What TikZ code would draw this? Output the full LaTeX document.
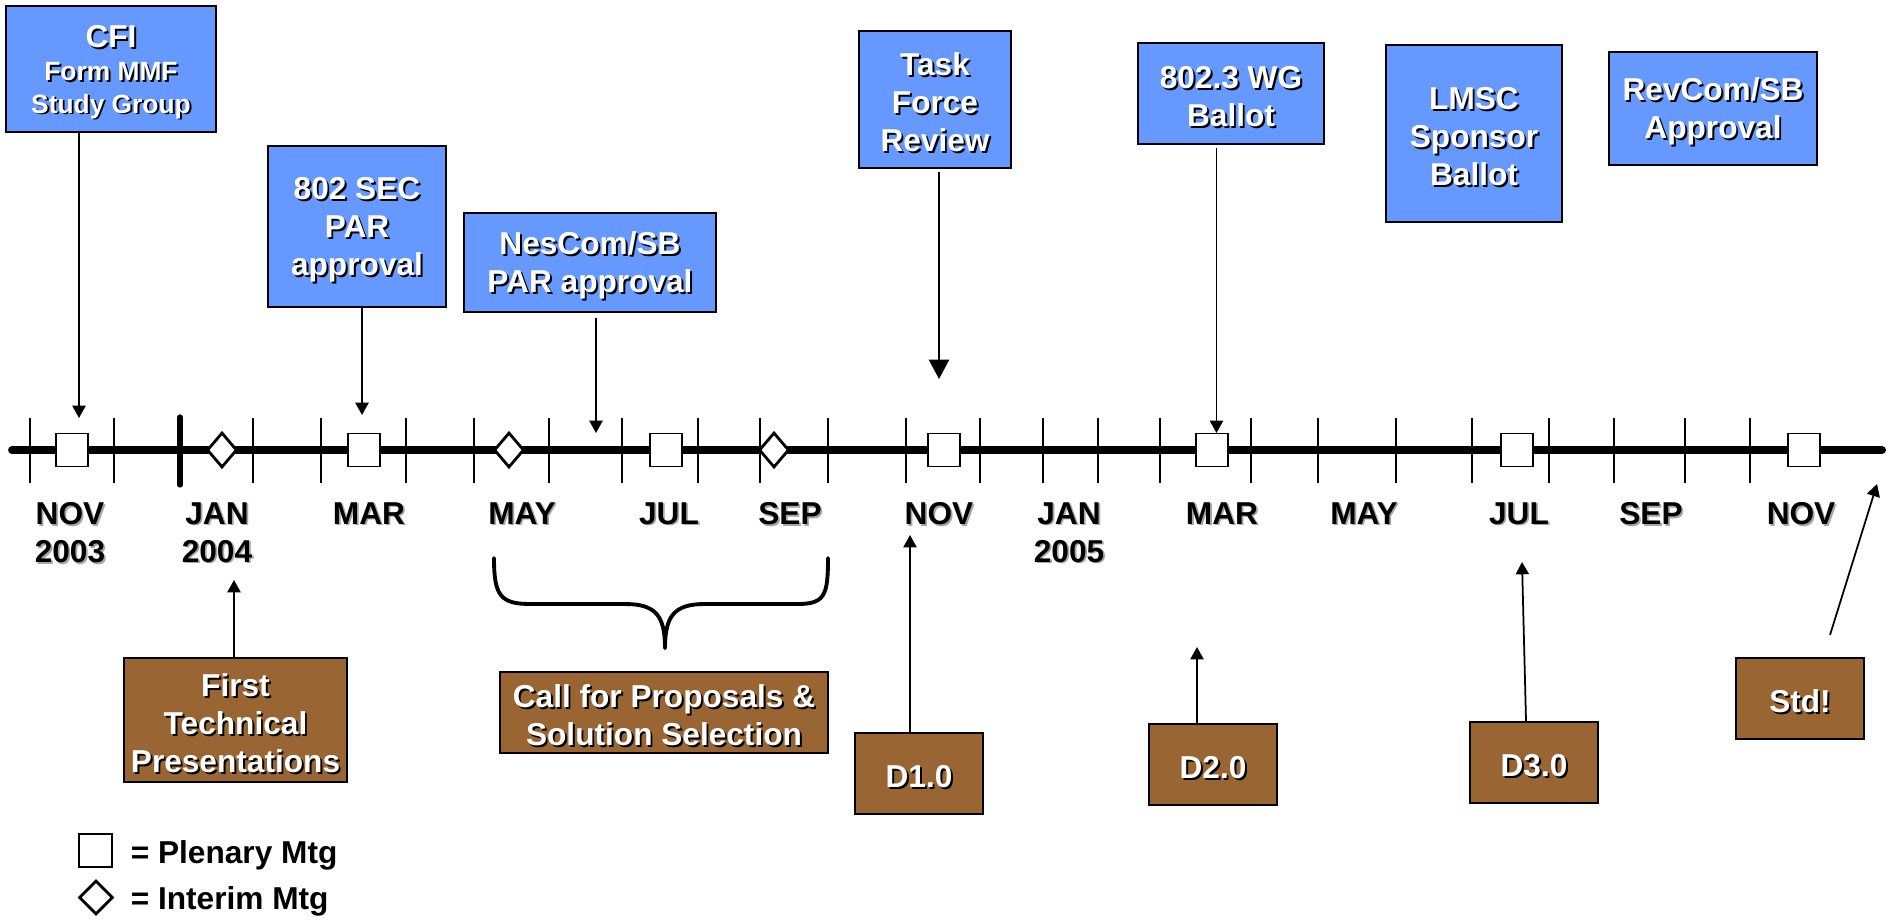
\documentclass[tikz,border=0pt]{standalone}
\usepackage{fontspec}
\setmainfont{Liberation Sans}
\usepackage{tikz}
\usetikzlibrary{arrows.meta,shapes.geometric}

\definecolor{mtgblue}{RGB}{102,153,255}
\definecolor{mtgbrown}{RGB}{153,102,51}

\newcommand\boxtext[1]{\raisebox{-0.08cm}[\height][\depth]{\makebox[0pt][l]{\hspace{1.1pt}\raisebox{-1.1pt}{\color{black}#1}}#1}}
\newcommand\axistext[1]{\makebox[0pt][l]{\hspace{1pt}\raisebox{-1pt}{\color{black!35}#1}}#1}

\tikzset{
  blue box/.style={draw=black, line width=1.2pt, fill=mtgblue, text=white, align=center, inner sep=2pt, font=\fontsize{18}{21.6}\selectfont\bfseries},
  brown box/.style={blue box, fill=mtgbrown},
  plenary/.style={rectangle, draw, line width=1pt, fill=white, minimum width=0.64cm, minimum height=0.66cm, inner sep=0pt},
  interim/.style={diamond, draw, line width=1.6pt, fill=white, minimum width=0.6cm, minimum height=0.7cm, inner sep=0pt},
  month/.style={anchor=north, align=center, inner sep=0pt, font=\fontsize{18}{21.6}\selectfont\bfseries},
  legend label/.style={anchor=base west, inner sep=0pt, font=\fontsize{18}{21.6}\selectfont\bfseries},
  monthtick/.style={line width=1pt},
  pointer/.style={line width=1pt, -{Triangle[width=7.5pt,length=7pt]}},
  big pointer/.style={line width=1pt, -{Triangle[width=11.5pt,length=11pt]}},
  brace line/.style={line width=2.2pt, line cap=round}
}

\begin{document}
\begin{tikzpicture}
\useasboundingbox (0,0) rectangle (37.82,-18.46);

\draw[monthtick] (0.60,-8.36) -- (0.60,-9.66);
\draw[monthtick] (2.28,-8.36) -- (2.28,-9.66);
\draw[line width=3pt, line cap=round] (3.60,-8.34) -- (3.60,-9.70);
\draw[monthtick] (5.06,-8.36) -- (5.06,-9.66);
\draw[monthtick] (6.42,-8.36) -- (6.42,-9.66);
\draw[monthtick] (8.12,-8.36) -- (8.12,-9.66);
\draw[monthtick] (9.48,-8.36) -- (9.48,-9.66);
\draw[monthtick] (10.98,-8.36) -- (10.98,-9.66);
\draw[monthtick] (12.44,-8.36) -- (12.44,-9.66);
\draw[monthtick] (13.96,-8.36) -- (13.96,-9.66);
\draw[monthtick] (15.20,-8.36) -- (15.20,-9.66);
\draw[monthtick] (16.56,-8.36) -- (16.56,-9.66);
\draw[monthtick] (18.12,-8.36) -- (18.12,-9.66);
\draw[monthtick] (19.60,-8.36) -- (19.60,-9.66);
\draw[monthtick] (20.86,-8.36) -- (20.86,-9.66);
\draw[monthtick] (21.96,-8.36) -- (21.96,-9.66);
\draw[monthtick] (23.20,-8.36) -- (23.20,-9.66);
\draw[monthtick] (25.02,-8.36) -- (25.02,-9.66);
\draw[monthtick] (26.36,-8.36) -- (26.36,-9.66);
\draw[monthtick] (27.92,-8.36) -- (27.92,-9.66);
\draw[monthtick] (29.44,-8.36) -- (29.44,-9.66);
\draw[monthtick] (30.98,-8.36) -- (30.98,-9.66);
\draw[monthtick] (32.28,-8.36) -- (32.28,-9.66);
\draw[monthtick] (33.70,-8.36) -- (33.70,-9.66);
\draw[monthtick] (35.00,-8.36) -- (35.00,-9.66);
\draw[line width=4.5pt, line cap=round] (0.24,-9.0) -- (37.64,-9.0);

\node[plenary] (p1) at (1.44,-9.0) {};
\node[interim] (i1) at (4.44,-9.0) {};
\node[plenary] (p2) at (7.28,-9.0) {};
\node[interim] (i2) at (10.18,-9.0) {};
\node[plenary] (p3) at (13.32,-9.0) {};
\node[interim] (i3) at (15.48,-9.0) {};
\node[plenary] (p4) at (18.88,-9.0) {};
\node[plenary] (p5) at (24.24,-9.0) {};
\node[plenary] (p6) at (30.34,-9.0) {};
\node[plenary] (p7) at (36.08,-9.0) {};

\node[month] (nov03) at (1.40,-10.04) {\axistext{NOV}\\\axistext{2003}};
\node[month] (jan04) at (4.34,-10.04) {\axistext{JAN}\\\axistext{2004}};
\node[month] (mar04) at (7.38,-10.04) {\axistext{MAR}};
\node[month] (may04) at (10.44,-10.04) {\axistext{MAY}};
\node[month] (jul04) at (13.38,-10.04) {\axistext{JUL}};
\node[month] (sep04) at (15.80,-10.04) {\axistext{SEP}};
\node[month] (nov04) at (18.78,-10.04) {\axistext{NOV}};
\node[month] (jan05) at (21.38,-10.04) {\axistext{JAN}\\\axistext{2005}};
\node[month] (mar05) at (24.44,-10.04) {\axistext{MAR}};
\node[month] (may05) at (27.28,-10.04) {\axistext{MAY}};
\node[month] (jul05) at (30.38,-10.04) {\axistext{JUL}};
\node[month] (sep05) at (33.02,-10.04) {\axistext{SEP}};
\node[month] (nov05) at (36.02,-10.04) {\axistext{NOV}};

\node[blue box, minimum width=4.2cm, minimum height=2.52cm] (cfi) at (2.22,-1.38) {\boxtext{CFI}\\[-3pt]\fontsize{15}{18}\selectfont\boxtext{Form MMF}\\[-3pt]\fontsize{15}{18}\selectfont\boxtext{Study Group}};
\node[blue box, minimum width=3.56cm, minimum height=3.22cm] (sec) at (7.14,-4.53) {\boxtext{802 SEC}\\\boxtext{PAR}\\\boxtext{approval}};
\node[blue box, minimum width=5.04cm, minimum height=1.98cm] (nescom) at (11.80,-5.25) {\boxtext{NesCom/SB}\\\boxtext{PAR approval}};
\node[blue box, minimum width=3.04cm, minimum height=2.74cm] (tf) at (18.70,-1.99) {\boxtext{Task}\\\boxtext{Force}\\\boxtext{Review}};
\node[blue box, minimum width=3.72cm, minimum height=2.02cm] (wg) at (24.62,-1.87) {\boxtext{802.3 WG}\\\boxtext{Ballot}};
\node[blue box, minimum width=3.52cm, minimum height=3.54cm] (lmsc) at (29.48,-2.67) {\boxtext{LMSC}\\\boxtext{Sponsor}\\\boxtext{Ballot}};
\node[blue box, minimum width=4.16cm, minimum height=2.26cm] (revcom) at (34.26,-2.17) {\boxtext{RevCom/SB}\\\boxtext{Approval}};

\node[brown box, minimum width=4.46cm, minimum height=2.48cm] (ftp) at (4.71,-14.40) {\boxtext{First}\\\boxtext{Technical}\\\boxtext{Presentations}};
\node[brown box, minimum width=6.56cm, minimum height=1.62cm] (cfp) at (13.28,-14.25) {\boxtext{Call for Proposals \&}\\\boxtext{Solution Selection}};
\node[brown box, minimum width=2.56cm, minimum height=1.62cm] (d1) at (18.38,-15.47) {\boxtext{D1.0}};
\node[brown box, minimum width=2.56cm, minimum height=1.62cm] (d2) at (24.26,-15.29) {\boxtext{D2.0}};
\node[brown box, minimum width=2.56cm, minimum height=1.62cm] (d3) at (30.68,-15.25) {\boxtext{D3.0}};
\node[brown box, minimum width=2.56cm, minimum height=1.62cm] (std) at (36.00,-13.97) {\boxtext{Std!}};

\coordinate (cfi tip) at (1.58,-8.36);
\coordinate (sec tip) at (7.24,-8.30);
\coordinate (nescom tip) at (11.92,-8.66);
\coordinate (tf tip) at (18.78,-7.58);
\coordinate (wg tip) at (24.33,-8.66);
\coordinate (ftp tip) at (4.68,-11.60);
\coordinate (d1 tip) at (18.20,-10.70);
\coordinate (d2 tip) at (23.94,-12.94);
\coordinate (d3 tip) at (30.44,-11.24);
\coordinate (std tip) at (37.54,-9.68);

\draw[pointer] (cfi tip |- cfi.south) -- (cfi tip);
\draw[pointer] (sec tip |- sec.south) -- (sec tip);
\draw[pointer, shorten <=0.1cm] (nescom tip |- nescom.south) -- (nescom tip);
\draw[big pointer, shorten <=0.06cm] (tf tip |- tf.south) -- (tf tip);
\draw[pointer, shorten <=0.06cm] (wg tip |- wg.south) -- (wg tip);
\draw[pointer] (ftp tip |- ftp.north) -- (ftp tip);
\draw[pointer] (d1 tip |- d1.north) -- (d1 tip);
\draw[pointer] (d2 tip |- d2.north) -- (d2 tip);
\draw[pointer] ([xshift=-0.16cm]d3.north) -- (d3 tip);
\draw[pointer] ([xshift=0.6cm,yshift=0.44cm]std.north) -- (std tip);

\draw[brace line] (9.88,-11.16) .. controls (9.88,-11.9) and (10.0,-12.08) .. (10.6,-12.08) -- (12.5,-12.08) .. controls (13.1,-12.08) and (13.30,-12.3) .. (13.30,-12.96);
\draw[brace line] (13.30,-12.96) .. controls (13.30,-12.3) and (13.5,-12.08) .. (14.1,-12.08) -- (15.95,-12.08) .. controls (16.5,-12.08) and (16.56,-11.9) .. (16.56,-11.16);

\node[plenary, minimum width=0.66cm] (plenary key) at (1.91,-17.01) {};
\node[interim, minimum width=0.68cm, minimum height=0.68cm] (interim key) at (1.92,-17.95) {};
\node[legend label] (plenary text) at (2.61,-17.26) {= Plenary Mtg};
\node[legend label] (interim text) at (2.61,-18.18) {= Interim Mtg};
\end{tikzpicture}
\end{document}
